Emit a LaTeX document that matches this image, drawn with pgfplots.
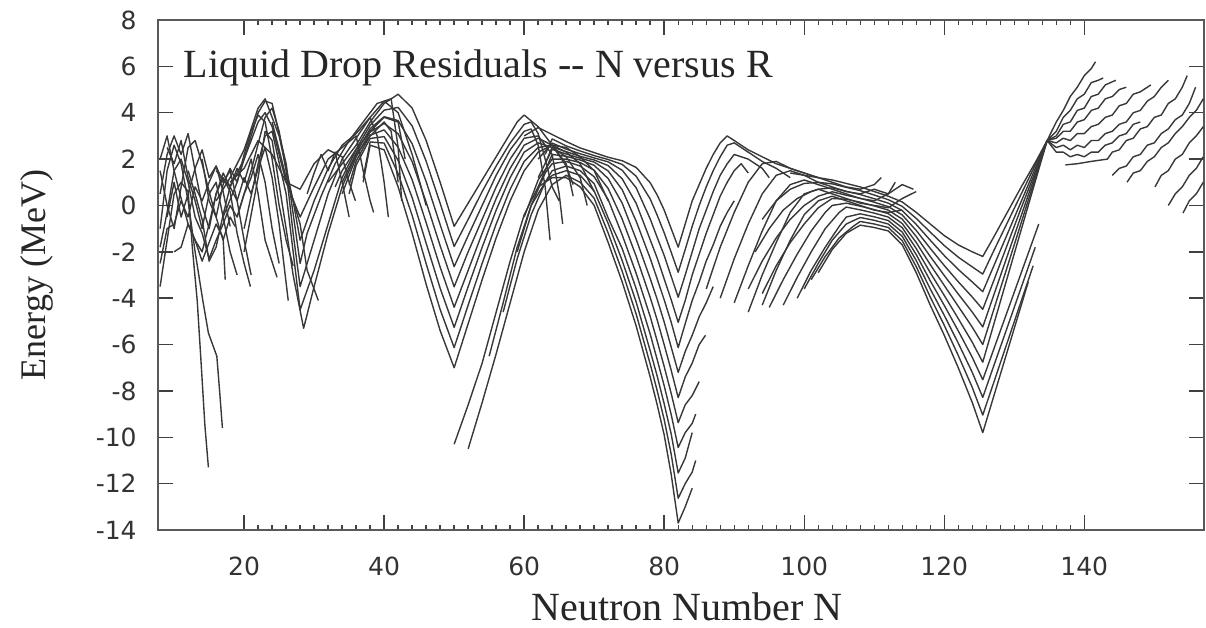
\documentclass[border=0pt]{standalone}
\usepackage{fontspec}
\setmainfont{Liberation Serif}
\newfontfamily\ticksans{DejaVu Sans}
\usepackage{pgfplots}
\pgfplotsset{compat=1.18}
\tikzset{res/.style={black!78, line width=0.7pt, mark=none, line join=round}}
\begin{document}
\begin{tikzpicture}
\begin{axis}[
  width=523pt, height=255pt, scale only axis,
  xmin=7.7, xmax=157.1, ymin=-14, ymax=8,
  xtick={20,40,...,140}, xticklabels={20,40,60,80,100,120,140},
  minor x tick num=9,
  ytick={-14,-12,...,8}, yticklabels={-14,-12,-10,-8,-6,-4,-2,0,2,4,6,8},
  tick align=inside, tick pos=both, ticklabel pos=left,
  major tick length=7.5pt, minor tick length=2.6pt,
  tick style={black!75, line width=0.7pt},
  axis line style={black!65, line width=1.2pt},
  xticklabel style={font=\ticksans\fontsize{12.5}{14}\selectfont, text=black!80, anchor=base, yshift=-22.5pt},
  yticklabel style={font=\ticksans\fontsize{12.5}{14}\selectfont, text=black!80, anchor=east, inner sep=0pt, xshift=-10.5pt},
  clip=true,
]
% light nuclei
\addplot[res] coordinates {(8,-3.5) (9,-1.5) (10,0.5) (11,1.0) (12,0.6) (12.6,-1.8) (13.3,-4.1) (13.9,-7.0) (14.4,-9.5) (14.9,-11.3)};
\addplot[res] coordinates {(8,-1.0) (9,1.5) (10,2.6) (11,1.8) (12,0.2) (13,-2.0) (14.1,-4.1) (14.9,-5.5) (16.1,-6.5) (16.5,-8.0) (16.9,-9.6)};
\addplot[res] coordinates {(8,2.0) (9,3.0) (10,1.5) (11,0.3) (12,-0.8) (13,-1.5) (14,-2.4) (15,-1.6) (16,-0.8) (17,-1.4) (17.3,-3.2)};
\addplot[res] coordinates {(8,0.5) (9,2.2) (10,3.0) (11,2.2) (12,3.1) (13,1.5) (14,0.0) (15,-1.0) (16,0.5) (17,1.2) (18,0.6) (19,-1.2) (20,-2.5) (20.9,-3.5)};
\addplot[res] coordinates {(9,-0.5) (10,1.0) (11,-0.5) (12,0.5) (13,1.6) (14,2.4) (15,1.2) (16,1.7) (17,0.6) (18,-0.9)};
\addplot[res] coordinates {(8,-2.5) (9,-1.0) (10,-0.8) (11,0.2) (12,-0.5) (13,0.8) (14,0.2) (15,1.0) (16,1.7) (17,1.0) (18,1.5) (19,0.2) (20,-1.5) (21,-3.0)};
\addplot[res] coordinates {(10,-2.0) (11,-1.8) (12,-0.8) (13,-1.5) (14,-2.0) (15,-0.8) (16,0.5) (17,1.4) (18,0.8) (19,1.6) (20,1.0) (21,2.0) (22,0.5) (23,-1.5) (24.7,-3.1)};
\addplot[res] coordinates {(12,1.5) (13,0.5) (14,-0.6) (15,-2.4) (16,-1.8) (17,-0.4) (18,0.8) (19,0.2) (20,1.2) (21,0.5) (22,1.6) (23,2.5) (24,1.2) (25,-0.8) (26.3,-4.1)};
\addplot[res] coordinates {(8,1.5) (9,0.0) (10,-1.0) (11,0.8) (12,2.5) (13,2.8) (14,1.8) (15,0.6) (16,-0.5) (17,-1.5) (18,-0.5) (18.7,-0.9)};
\addplot[res] coordinates {(8,-1.8) (9,-0.3) (10,1.5) (11,2.0) (12,1.0) (13,-0.5) (14,-1.2) (15,-2.3) (16,-1.5) (17,-0.8) (18,0.0) (19,-0.5) (20,0.5) (21,1.2) (22,2.2) (23,1.0) (24,-1.0) (25,-2.5)};
\addplot[res] coordinates {(9,2.5) (10,1.8) (11,2.8) (12,1.2) (13,0.2) (14,-1.0) (15,0.5) (16,1.0) (17,-0.5) (18,-2.0) (19,-3.0)};
\addplot[res] coordinates {(14,2.0) (15,0.2) (16,-0.5) (17,0.9) (18,1.6) (19,1.0) (20,2.2) (21,3.2) (22,3.9) (23,3.6) (24,2.0) (25,0.0) (26,-1.5) (27,-2.6)};
% chains through N = 28
\addplot[res] coordinates {(18,1.0) (20,1.6) (22,2.8) (24,2.2) (26,1.0) (28,0.7) (30,1.8) (32,2.4) (34,2.1) (35,1.0) (35.9,0.2)};
\addplot[res] coordinates {(16,1.5) (18,0.8) (20,2.0) (22,3.6) (23,4.0) (24,3.4) (26,1.0) (28,-0.5) (30,0.8) (32,2.0) (34,2.5) (36,3.0) (37,1.5) (38,0.2) (38.5,-0.3)};
\addplot[res] coordinates {(16,0.2) (18,1.2) (20,2.4) (22,4.2) (23,4.6) (25,3.0) (27,0.2) (28,-1.5) (30,0.2) (32,1.6) (34,2.6) (36,3.1) (38,3.8) (39,3.0) (40,1.0) (40.6,-0.5)};
\addplot[res] coordinates {(17,-0.5) (19,1.0) (21,3.0) (22,4.0) (23,4.5) (24,4.4) (26,1.8) (28,-2.5) (29,-1.2) (31,0.4) (33,1.8) (35,2.8) (37,3.6) (39,4.4) (41,4.6) (42,2.5) (42.5,0.2)};
\addplot[res] coordinates {(19,-0.5) (21,1.5) (23,3.8) (24,4.2) (25,3.2) (26,1.5) (27,-1.2) (28,-3.5) (30,-1.5) (32,0.5) (34,2.0) (36,2.9) (38,3.8) (40,4.5) (42,4.0) (44,2.2) (46,0.0)};
\addplot[res] coordinates {(20,-1.0) (22,1.8) (23,3.0) (24,3.2) (26,0.5) (27,-2.0) (28,-4.5) (30,-2.8) (32,-0.8) (34,1.2) (36,2.4) (38,3.2) (40,3.8) (42,3.6) (43,2.0)};
\addplot[res] coordinates {(20,-2.0) (22,1.2) (23,3.2) (24,2.8) (26,-1.0) (27,-3.0) (28.5,-5.3) (30,-3.5) (32,-1.2) (34,0.8) (36,2.2) (38,3.0) (40,3.6) (41,3.2) (42,1.0)};
\addplot[res] coordinates {(24,3.6) (26,1.2) (28,-0.8) (29,-2.8) (30.6,-4.1)};
\addplot[res] coordinates {(29,0.5) (30,1.4) (31,2.2) (32,1.5) (33,2.3) (34,1.0) (35,-0.5)};
% chains through N = 50
\addplot[res] coordinates {(32,1.0) (34,1.8) (36,2.6) (38,3.6) (40,4.4) (42,4.8) (44,4.2) (46,2.8) (48,1.0) (50,-0.9) (52,0.1) (54,1.1) (56,2.1) (58,3.1) (59,3.6) (60,3.9) (62,3.4) (64,2.6) (66,1.7) (67,0.9)};
\addplot[res] coordinates {(33,0.8) (34,1.5) (36,2.43) (38,3.46) (40,4.11) (42,4.23) (44,3.43) (46,1.91) (48,0.09) (50,-1.77) (52,-0.6) (54,0.6) (56,1.7) (58,2.7) (60,3.5) (61,3.6) (62,3.1) (63,2.0) (64,0.8) (65,0.2)};
\addplot[res] coordinates {(34,1.0) (36,2.26) (38,3.31) (40,3.83) (42,3.66) (44,2.66) (46,1.03) (48,-0.83) (50,-2.64) (52,-1.3) (54,0.0) (56,1.3) (58,2.4) (60,3.2) (61,3.3) (62,2.6) (63,0.8) (63.7,-1.5)};
\addplot[res] coordinates {(34,0.5) (36,2.09) (38,3.17) (40,3.54) (42,3.09) (44,1.89) (46,0.14) (48,-1.74) (50,-3.51) (52,-2.0) (54,-0.6) (56,0.8) (58,2.0) (60,2.9) (62,3.0) (64,2.2) (65,0.5) (65.5,-0.8)};
\addplot[res] coordinates {(35,0.9) (36,1.91) (38,3.03) (40,3.26) (42,2.51) (44,1.11) (46,-0.74) (48,-2.66) (50,-4.39) (52,-2.8) (54,-1.2) (56,0.3) (58,1.6) (60,2.6) (62,2.9) (64,2.6) (66,1.8) (67,0.4)};
\addplot[res] coordinates {(35,0.5) (36,1.74) (38,2.89) (40,2.97) (42,1.94) (44,0.34) (46,-1.63) (48,-3.57) (50,-5.26) (52,-3.5) (54,-1.8) (56,-0.2) (58,1.2) (60,2.3) (62,2.7) (64,2.5) (66,2.1) (68,1.2) (69,0.0)};
\addplot[res] coordinates {(37,1.2) (38,2.74) (40,2.69) (42,1.37) (44,-0.43) (46,-2.51) (48,-4.49) (50,-6.13) (52,-4.3) (54,-2.5) (56,-0.8) (58,0.7) (60,1.9) (62,2.5) (64,2.6) (66,2.3) (68,1.8) (70,0.6)};
\addplot[res] coordinates {(37,1.0) (38,2.6) (40,2.4) (42,0.8) (44,-1.2) (46,-3.4) (48,-5.4) (50,-7.0) (52,-5.1) (54,-3.2) (56,-1.4) (58,0.2) (60,1.5) (62,2.3) (64,2.6) (66,2.5) (68,2.1) (70,1.5) (72,0.2)};
% chains through N = 82
\addplot[res] coordinates {(60,3.0) (62,3.36) (64,3.06) (66,2.76) (68,2.48) (70,2.28) (72,2.08) (74,1.93) (76,1.64) (78,0.98) (79,0.45) (80,-0.2) (81,-1.0) (82,-1.8) (83,-0.8) (84,0.2) (85,0.9) (86,1.6) (87,2.2) (88,2.7) (89,3.0) (90,2.8) (92,2.4) (94,2.1) (96,1.8) (98,1.6) (100,1.4) (102,1.2)};
\addplot[res] coordinates {(63,2.2) (64,2.87) (66,2.57) (68,2.35) (70,2.15) (72,1.98) (74,1.77) (76,1.26) (78,0.28) (79,-0.42) (80,-1.18) (81,-2.02) (82,-2.88) (83,-1.9) (84,-0.9) (85,0.0) (86,0.8) (87,1.5) (88,2.1) (89,2.6) (90,2.7) (92,2.3) (94,1.9) (96,1.6) (98,1.2)};
\addplot[res] coordinates {(62,2.0) (64,2.69) (66,2.43) (68,2.23) (70,2.05) (72,1.88) (74,1.52) (76,0.76) (78,-0.58) (79,-1.38) (80,-2.16) (81,-3.06) (82,-3.96) (83,-3.0) (84,-2.0) (85,-1.0) (86,-0.2) (87,0.6) (88,1.3) (89,1.8) (90,2.2) (92,2.0) (94,1.6) (95,1.2)};
\addplot[res] coordinates {(63,1.8) (64,2.52) (66,2.32) (68,2.12) (70,1.96) (72,1.72) (74,1.15) (76,0.09) (78,-1.48) (79,-2.27) (80,-3.17) (81,-4.07) (82,-5.04) (83,-4.1) (84,-3.0) (85,-2.1) (86,-1.2) (87,-0.4) (88,0.4) (89,1.0) (90,1.5) (91,1.8) (92,1.4)};
\addplot[res] coordinates {(62,1.2) (64,2.42) (66,2.22) (68,2.04) (70,1.87) (72,1.49) (74,0.68) (76,-0.68) (78,-2.28) (79,-3.17) (80,-4.07) (81,-5.04) (82,-6.13) (83,-5.1) (84,-4.1) (85,-3.3) (86,-2.4) (87,-1.7) (88,-0.9) (89,-0.3) (90,0.2)};
\addplot[res] coordinates {(62,0.8) (64,2.2) (66,2.12) (68,1.96) (70,1.73) (72,1.16) (74,0.1) (76,-1.46) (78,-3.15) (79,-4.05) (80,-5.03) (81,-6.11) (82,-7.2) (83,-6.3) (84,-5.6) (85,-4.8) (86,-4.2) (87,-3.5)};
\addplot[res] coordinates {(60,-0.5) (62,1.1) (64,2.0) (66,2.0) (68,1.85) (70,1.52) (72,0.73) (74,-0.59) (76,-2.19) (78,-3.97) (79,-4.94) (80,-6.01) (81,-7.11) (82,-8.29) (83,-7.4) (84,-6.8) (85,-6.0) (85.9,-5.6)};
\addplot[res] coordinates {(59,-2.0) (61,0.0) (63,1.4) (64,1.8) (66,1.9) (68,1.7) (70,1.24) (72,0.25) (74,-1.27) (76,-2.93) (78,-4.79) (79,-5.85) (80,-6.95) (81,-8.11) (82,-9.37) (83,-8.6) (84,-8.2) (85,-7.6)};
\addplot[res] coordinates {(57,-4.6) (59,-2.3) (61,-0.4) (63,1.0) (64,1.5) (66,1.7) (68,1.5) (70,0.94) (72,-0.54) (74,-1.86) (76,-3.59) (78,-5.55) (79,-6.65) (80,-7.78) (81,-9.02) (82,-10.44) (83,-9.8) (84,-9.4) (84.5,-9.0)};
\addplot[res] coordinates {(55,-6.5) (57,-4.2) (59,-1.8) (61,0.0) (63,1.0) (64,1.3) (66,1.5) (68,1.3) (70,0.62) (72,-0.78) (74,-2.38) (76,-4.17) (78,-6.27) (79,-7.36) (80,-8.56) (81,-9.86) (82,-11.54) (83,-10.9) (84,-9.8)};
\addplot[res] coordinates {(52,-10.5) (54,-8.5) (56,-6.4) (58,-4.2) (60,-2.0) (62,-0.2) (64,0.9) (66,1.3) (68,1.0) (70,0.31) (72,-1.19) (74,-2.84) (76,-4.69) (78,-6.84) (79,-7.99) (80,-9.24) (81,-10.73) (82,-12.63) (83,-12.0) (84,-11.5) (84.5,-11.0)};
\addplot[res] coordinates {(50,-10.3) (52,-8.6) (54,-6.8) (56,-4.6) (58,-2.4) (60,-0.4) (62,0.8) (64,1.2) (66,1.2) (68,0.8) (70,0.0) (72,-1.6) (74,-3.3) (76,-5.2) (78,-7.4) (79,-8.6) (80,-9.9) (81,-11.6) (82,-13.7) (83,-13.0) (84,-12.2)};
% chains between the shells
\addplot[res] coordinates {(86,-3.6) (88,-1.8) (90,-0.3) (92,1.0) (94,1.8) (96,1.9) (98,1.6) (100,1.4) (102,1.2) (104,1.0) (106,0.8) (108,0.7) (110,0.9) (111,1.2)};
\addplot[res] coordinates {(88,-4.0) (90,-2.3) (92,-0.8) (94,0.5) (96,1.3) (98,1.5) (100,1.3) (102,1.0) (104,0.8) (106,0.6) (108,0.5) (110,0.7) (112,0.5) (114,0.9) (115.6,0.7)};
\addplot[res] coordinates {(90,-4.2) (92,-2.6) (94,-1.1) (96,0.2) (98,0.9) (100,1.1) (102,0.9) (104,0.7) (106,0.5) (108,0.3) (110,0.2) (112,0.5) (113,1.0)};
\addplot[res] coordinates {(92,-4.6) (94,-3.0) (96,-1.6) (98,-0.3) (100,0.5) (102,0.7) (104,0.5) (106,0.3) (108,0.1) (110,0.0) (112,-0.1) (114,0.3) (116,0.6)};
\addplot[res] coordinates {(94,-4.3) (96,-2.8) (98,-1.5) (100,-0.4) (102,0.2) (104,0.4) (106,0.2) (108,0.0) (110,-0.2) (112,-0.3) (114,-0.2)};
% chains through N = 126
\addplot[res] coordinates {(98,1.4) (100,1.3) (102,1.2) (104,1.1) (106,0.95) (108,0.8) (110,0.6) (112,0.4) (114,0.15) (116,-0.3) (118,-0.8) (120,-1.3) (122,-1.7) (124,-2.0) (125.5,-2.2) (127,-1.4) (129,-0.3) (131,0.8) (133,1.85) (134.7,2.8) (136,3.6) (137,4.1) (138,4.7) (139,5.1) (140,5.6) (141,5.9) (141.6,6.2)};
\addplot[res] coordinates {(94,-0.6) (96,0.2) (98,0.7) (100,0.95) (102,1.0) (104,0.93) (106,0.78) (108,0.64) (110,0.45) (112,0.25) (114,-0.04) (116,-0.56) (118,-1.15) (120,-1.73) (122,-2.23) (124,-2.65) (125.5,-2.96) (127,-2.0) (129,-0.75) (131,0.5) (133,1.75) (134.7,2.8) (136,3.2) (137,3.8) (138,4.1) (139,4.6) (140,4.8) (141,5.3) (142,5.4) (142.7,5.5)};
\addplot[res] coordinates {(93,-2.0) (95,-1.0) (97,-0.2) (99,0.3) (101,0.6) (102,0.7) (104,0.76) (106,0.61) (108,0.47) (110,0.29) (112,0.1) (114,-0.22) (116,-0.82) (118,-1.5) (120,-2.16) (122,-2.76) (124,-3.3) (125.5,-3.72) (127,-2.66) (129,-1.24) (131,0.18) (133,1.6) (134.7,2.8) (136,3.0) (137,3.5) (138,3.6) (139,4.1) (140,4.2) (141,4.7) (142,4.8) (143,5.2) (144.5,5.4)};
\addplot[res] coordinates {(92,-3.6) (94,-2.4) (96,-1.4) (98,-0.6) (100,0.0) (102,0.4) (104,0.59) (106,0.44) (108,0.31) (110,0.14) (112,-0.05) (114,-0.41) (116,-1.08) (118,-1.85) (120,-2.59) (122,-3.29) (124,-3.95) (125.5,-4.48) (127,-3.3) (129,-1.7) (131,-0.1) (133,1.45) (134.7,2.8) (136,2.9) (137,3.2) (138,3.2) (139,3.6) (140,3.7) (141,4.1) (142,4.2) (143,4.6) (144,4.7) (145,5.0) (146,5.1)};
\addplot[res] coordinates {(94,-3.8) (96,-2.6) (98,-1.6) (100,-0.8) (102,-0.1) (104,0.3) (106,0.27) (108,0.14) (110,-0.02) (112,-0.2) (114,-0.59) (116,-1.34) (118,-2.2) (120,-3.02) (122,-3.82) (124,-4.6) (125.5,-5.24) (127,-3.93) (129,-2.18) (131,-0.43) (133,1.32) (134.7,2.8) (136,2.7) (137,2.9) (138,2.8) (139,3.1) (140,3.1) (141,3.4) (142,3.5) (143,3.8) (144,3.9) (145,4.3) (146,4.4) (147,4.8) (148,4.9) (149.5,5.2)};
\addplot[res] coordinates {(95,-4.4) (97,-3.2) (99,-2.1) (101,-1.1) (103,-0.3) (104,0.0) (106,0.1) (108,-0.03) (110,-0.18) (112,-0.35) (114,-0.78) (116,-1.6) (118,-2.55) (120,-3.45) (122,-4.35) (124,-5.25) (125.5,-6.0) (127,-4.56) (129,-2.65) (131,-0.74) (133,1.18) (134.7,2.8) (136,2.5) (137,2.6) (138,2.4) (139,2.6) (140,2.5) (141,2.8) (142,2.8) (143,3.1) (144,3.2) (145,3.5) (146,3.6) (147,4.0) (148,4.1) (149,4.5) (150,4.7) (151,5.1) (152,5.4)};
\addplot[res] coordinates {(97,-4.3) (99,-3.1) (101,-2.0) (103,-1.0) (105,-0.3) (106,-0.07) (108,-0.19) (110,-0.33) (112,-0.5) (114,-0.96) (116,-1.86) (118,-2.9) (120,-3.88) (122,-4.88) (124,-5.9) (125.5,-6.76) (127,-5.2) (129,-3.12) (131,-1.04) (133,1.04) (134.7,2.8) (136,2.3) (137,2.3) (138,2.1) (139,2.2) (140,2.1) (141,2.3) (142,2.3) (143,2.6) (144,2.7) (145,3.0) (146,3.1) (147,3.5) (148,3.6)};
\addplot[res] coordinates {(99,-4.0) (101,-2.8) (103,-1.8) (105,-0.9) (106,-0.5) (108,-0.36) (110,-0.49) (112,-0.65) (114,-1.15) (116,-2.12) (118,-3.25) (120,-4.31) (122,-5.41) (124,-6.55) (125.5,-7.52) (127,-6.26) (129,-4.58) (131,-2.9) (133,-1.22) (133.5,-0.8)};
\addplot[res] coordinates {(100,-3.6) (102,-2.5) (104,-1.5) (106,-0.8) (108,-0.52) (110,-0.64) (112,-0.8) (114,-1.33) (116,-2.38) (118,-3.6) (120,-4.74) (122,-5.94) (124,-7.2) (125.5,-8.28) (127,-6.98) (129,-5.26) (131,-3.53) (133,-1.8)};
\addplot[res] coordinates {(101,-3.2) (103,-2.2) (105,-1.4) (107,-0.9) (108,-0.69) (110,-0.8) (112,-0.95) (114,-1.52) (116,-2.64) (118,-3.95) (120,-5.17) (122,-6.47) (124,-7.85) (125.5,-9.04) (127,-7.7) (129,-5.91) (131,-4.12) (132.7,-2.6)};
\addplot[res] coordinates {(102,-2.9) (104,-1.9) (106,-1.2) (108,-0.85) (110,-0.95) (112,-1.1) (114,-1.7) (116,-2.9) (118,-4.3) (120,-5.6) (122,-7.0) (124,-8.5) (125.5,-9.8) (127,-8.3) (129,-6.3) (131,-4.3) (132,-3.3)};
% heaviest chains
\addplot[res] coordinates {(137.3,1.75) (139,1.8) (141,1.9) (143.3,2.0) (144,2.3) (145,2.4) (146,2.8) (147,2.9) (148,3.3) (149,3.4) (150,3.8) (151,3.9) (152,4.4) (153,4.6) (154,5.1) (154.7,5.6)};
\addplot[res] coordinates {(144,1.3) (145,1.6) (146,1.7) (147,2.1) (148,2.2) (149,2.6) (150,2.7) (151,3.1) (152,3.3) (153,3.7) (154,3.9) (155,4.4) (155.9,5.1)};
\addplot[res] coordinates {(146.1,1.0) (147,1.4) (148,1.5) (149,1.9) (150,2.1) (151,2.5) (152,2.7) (153,3.1) (154,3.4) (155,3.8) (156,4.1) (157,4.6)};
\addplot[res] coordinates {(150.1,0.8) (151,1.3) (152,1.5) (153,2.0) (154,2.2) (155,2.7) (156,3.0) (157,3.4)};
\addplot[res] coordinates {(152,0.0) (153,0.5) (154,0.8) (155,1.3) (156,1.6) (157,2.1)};
\addplot[res] coordinates {(154.1,-0.33) (155,0.2) (156,0.5) (157,1.0)};
\node[anchor=base west, font=\fontsize{20}{24}\selectfont, text=black!85] at (axis cs:10.4,5.5) {Liquid Drop Residuals -{}- N versus R};
\coordinate (sw) at (rel axis cs:0,0);
\coordinate (ne) at (rel axis cs:1,1);
\coordinate (w) at (rel axis cs:0,0.5);
\coordinate (s) at (rel axis cs:0.506,0);
\end{axis}
\node[rotate=90, font=\fontsize{18}{22}\selectfont, text=black!85] at ([xshift=-60.5pt]w) {Energy (MeV)};
\node[anchor=base, font=\fontsize{20}{24}\selectfont, text=black!85] at ([yshift=-45pt]s) {Neutron Number N};
\path ([shift={(-79pt,-47.5pt)}]sw) rectangle ([shift={(1pt,10pt)}]ne);
\end{tikzpicture}
\end{document}
